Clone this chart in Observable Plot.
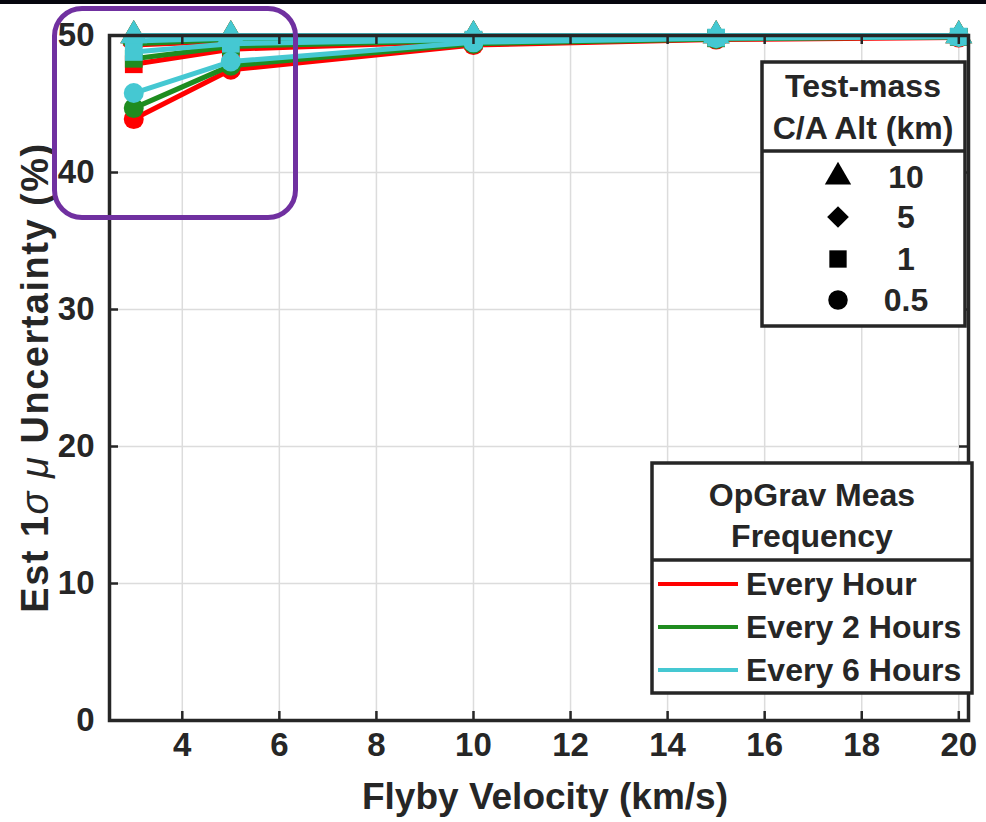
<!DOCTYPE html>
<html>
<head>
<meta charset="utf-8">
<script src="https://cdn.jsdelivr.net/npm/d3@7"></script>
<script src="https://cdn.jsdelivr.net/npm/@observablehq/plot@0.6"></script>
<style>
  html, body { margin: 0; padding: 0; background: #fff; overflow: hidden; }
  #wrap { position: relative; width: 986px; height: 822px; }
  #topbar { position: absolute; left: 0; top: 0; width: 986px; height: 4px; background: #06060e; }
  #callout { position: absolute; left: 52px; top: 6px; width: 236px; height: 204px;
             border: 5px solid #7030a0; border-radius: 30px; pointer-events: none; }
  svg { display: block; }
</style>
</head>
<body>
<div id="wrap"></div>
<script>
// ---- data ----
const velocities = [3, 5, 10, 15, 20];
const freqs = ["Every Hour", "Every 2 Hours", "Every 6 Hours"];
const freqColors = ["#ff0000", "#1f8c1f", "#45c8d2"];
const alts = ["10", "5", "1", "0.5"];
const altSymbols = ["triangle", "diamond2", "square", "circle"];

// Every Hour
const hour1_alt10  = [50.0, 50.0, 50.0, 50.0, 50.0];
const hour1_alt5   = [49.3, 49.6, 49.8, 49.9, 49.95];
const hour1_alt1   = [47.9, 49.0, 49.6, 49.8, 49.9];
const hour1_alt05  = [43.9, 47.5, 49.3, 49.7, 49.85];
// Every 2 Hours
const hour2_alt10  = [50.0, 50.0, 50.0, 50.0, 50.0];
const hour2_alt5   = [49.4, 49.7, 49.85, 49.9, 49.95];
const hour2_alt1   = [48.3, 49.2, 49.65, 49.8, 49.9];
const hour2_alt05  = [44.7, 47.8, 49.4, 49.75, 49.9];
// Every 6 Hours
const hour6_alt10  = [50.0, 50.0, 50.0, 50.0, 50.0];
const hour6_alt5   = [49.6, 49.8, 49.9, 49.95, 49.97];
const hour6_alt1   = [48.8, 49.4, 49.7, 49.85, 49.92];
const hour6_alt05  = [45.8, 48.1, 49.5, 49.8, 49.9];

const xTicks = [4, 6, 8, 10, 12, 14, 16, 18, 20];
const yTicks = [0, 10, 20, 30, 40, 50];
const xLabel = "Flyby Velocity (km/s)";
const legendAltTitle = ["Test-mass", "C/A Alt (km)"];
const legendFreqTitle = ["OpGrav Meas", "Frequency"];

const seriesValues = [
  [hour1_alt10, hour1_alt5, hour1_alt1, hour1_alt05],
  [hour2_alt10, hour2_alt5, hour2_alt1, hour2_alt05],
  [hour6_alt10, hour6_alt5, hour6_alt1, hour6_alt05]
];

// ---- layout ----
const W = 986, H = 822;
const mL = 109, mR = 18, mT = 35, mB = 102;
const fW = W - mL - mR, fH = H - mT - mB;
const ink = "#262626";
const font = "Liberation Sans, Arial, Helvetica, sans-serif";

const series = [];
freqs.forEach((f, fi) => alts.forEach((a, ai) => {
  series.push(velocities.map((v, k) => ({v, u: seriesValues[fi][ai][k], freq: f, alt: a})));
}));

const dataMarks = series.flatMap(s => [
  Plot.line(s, {x: "v", y: "u", stroke: "freq", strokeWidth: 5}),
  Plot.dot(s, {x: "v", y: "u", fill: "freq", symbol: "alt", r: 10, stroke: "none"})
]);

const chart = Plot.plot({
  width: W, height: H,
  marginLeft: mL, marginRight: mR, marginTop: mT, marginBottom: mB,
  style: {fontFamily: font, background: "white"},
  x: {domain: [2.5, 20.2], axis: null},
  y: {domain: [0, 50], axis: null},
  color: {domain: freqs, range: freqColors},
  symbol: {domain: alts, range: altSymbols},
  marks: [
    Plot.ruleX(xTicks, {stroke: "#dcdcdc", strokeWidth: 1.5}),
    Plot.ruleY(yTicks, {stroke: "#dcdcdc", strokeWidth: 1.5}),
    ...dataMarks,
    Plot.ruleX(xTicks, {stroke: ink, strokeWidth: 2.5, insetTop: fH - 9}),
    Plot.ruleX(xTicks, {stroke: ink, strokeWidth: 2.5, insetBottom: fH - 9}),
    Plot.ruleY(yTicks, {stroke: ink, strokeWidth: 2.5, insetRight: fW - 9}),
    Plot.ruleY(yTicks, {stroke: ink, strokeWidth: 2.5, insetLeft: fW - 9}),
    Plot.frame({stroke: ink, strokeWidth: 3.5}),
    Plot.text(xTicks, {x: d => d, frameAnchor: "bottom", dy: 35, text: d => String(d),
      fontSize: 33, fontWeight: "bold", fill: ink}),
    Plot.text(yTicks, {y: d => d, frameAnchor: "left", dx: -15, textAnchor: "end", text: d => String(d),
      fontSize: 33, fontWeight: "bold", fill: ink}),
    Plot.text([xLabel], {frameAnchor: "bottom", dy: 88, dx: 6, text: d => d,
      fontSize: 37, fontWeight: "bold", fill: ink})
  ]
});

const wrap = document.getElementById("wrap");
wrap.appendChild(chart);
const topBar = document.createElement("div"); topBar.id = "topbar"; wrap.appendChild(topBar);
const calloutBox = document.createElement("div"); calloutBox.id = "callout"; wrap.appendChild(calloutBox);

const svg = d3.select(chart);
svg.style("overflow", "visible");

// y label with italic Greek letters
const yl = svg.append("text")
  .attr("transform", `translate(35, ${mT + fH / 2}) rotate(-90)`)
  .attr("text-anchor", "middle").attr("dy", "0.35em").attr("letter-spacing", 1.5)
  .attr("font-family", font).attr("font-size", 38).attr("font-weight", "bold").attr("fill", ink);
yl.append("tspan").text("Est 1");
yl.append("tspan").attr("font-style", "italic").attr("font-weight", "normal").text("σ");
yl.append("tspan").text(" ");
yl.append("tspan").attr("font-style", "italic").attr("font-weight", "normal").text("μ");
yl.append("tspan").text(" Uncertainty (%)");

// Legend 1: altitude symbols
const symMap = {triangle: d3.symbolTriangle, diamond2: d3.symbolDiamond2, square: d3.symbolSquare, circle: d3.symbolCircle};
const g1 = svg.append("g").attr("font-family", font).attr("font-weight", "bold").attr("fill", ink);
g1.append("rect").attr("x", 762).attr("y", 62).attr("width", 203).attr("height", 264)
  .attr("fill", "white").attr("stroke", ink).attr("stroke-width", 3.5);
g1.append("line").attr("x1", 762).attr("x2", 965).attr("y1", 151).attr("y2", 151)
  .attr("stroke", ink).attr("stroke-width", 3.5);
legendAltTitle.forEach((t, i) => g1.append("text").attr("x", 863).attr("y", 86 + i * 42)
  .attr("dy", "0.35em").attr("text-anchor", "middle").attr("font-size", 32).text(t));
const rowY1 = [177, 217, 259, 300];
alts.forEach((a, i) => {
  g1.append("path").attr("d", d3.symbol(symMap[altSymbols[i]], 300)())
    .attr("transform", `translate(838, ${rowY1[i]})`).attr("fill", "black");
  g1.append("text").attr("x", 906).attr("y", rowY1[i]).attr("dy", "0.35em")
    .attr("text-anchor", "middle").attr("font-size", 32).text(a);
});

// Legend 2: measurement frequency
const g2 = svg.append("g").attr("font-family", font).attr("font-weight", "bold").attr("fill", ink);
g2.append("rect").attr("x", 652).attr("y", 463).attr("width", 320).attr("height", 230)
  .attr("fill", "white").attr("stroke", ink).attr("stroke-width", 3.5);
g2.append("line").attr("x1", 652).attr("x2", 972).attr("y1", 560).attr("y2", 560)
  .attr("stroke", ink).attr("stroke-width", 3.5);
legendFreqTitle.forEach((t, i) => g2.append("text").attr("x", 812).attr("y", 495 + i * 41)
  .attr("dy", "0.35em").attr("text-anchor", "middle").attr("font-size", 32).text(t));
const rowY2 = [584, 627, 670];
freqs.forEach((f, i) => {
  g2.append("line").attr("x1", 658).attr("x2", 738).attr("y1", rowY2[i]).attr("y2", rowY2[i])
    .attr("stroke", freqColors[i]).attr("stroke-width", 4);
  g2.append("text").attr("x", 746).attr("y", rowY2[i]).attr("dy", "0.35em")
    .attr("text-anchor", "start").attr("font-size", 32).text(f);
});
</script>
</body>
</html>
